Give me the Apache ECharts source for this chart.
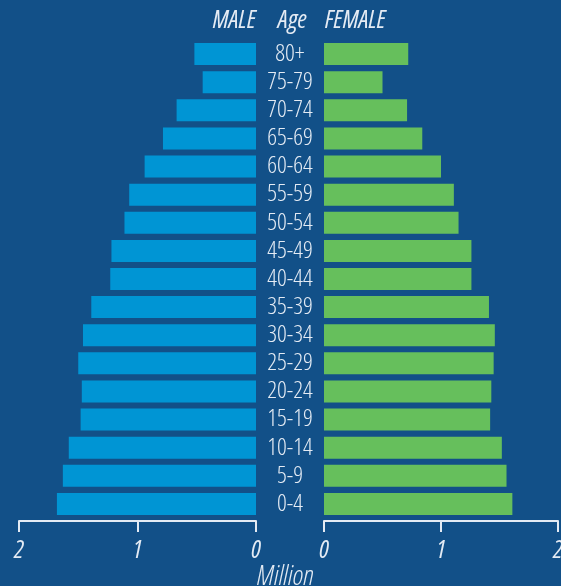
<!DOCTYPE html>
<html>
<head>
<meta charset="utf-8">
<script src="https://cdn.jsdelivr.net/npm/echarts@6/dist/echarts.min.js"></script>
<style>
  html, body { margin: 0; padding: 0; background: #125088; }
  #chart { width: 561px; height: 586px; }
</style>
</head>
<body>
<div id="chart"></div>
<script>
// age groups, bottom to top
var ages = ['0-4', '5-9', '10-14', '15-19', '20-24', '25-29', '30-34', '35-39', '40-44',
  '45-49', '50-54', '55-59', '60-64', '65-69', '70-74', '75-79', '80+'];
// millions
var male = [1.68, 1.63, 1.58, 1.48, 1.47, 1.50, 1.46, 1.39, 1.23, 1.22, 1.11, 1.07, 0.94, 0.785, 0.67, 0.45, 0.52];
var female = [1.61, 1.56, 1.52, 1.42, 1.43, 1.45, 1.46, 1.41, 1.26, 1.26, 1.15, 1.11, 1.00, 0.84, 0.71, 0.50, 0.72];
var xTicks = [0, 1, 2];

// light condensed face, close to the original
var font = '"Open Sans", "Roboto", sans-serif';
var light = 'condensed 300';
var regular = 'condensed 400';
var textColor = '#e4ebf4';

var chart = echarts.init(document.getElementById('chart'));

function valueAxis(gridIndex, inverse) {
  return {
    type: 'value',
    gridIndex: gridIndex,
    inverse: inverse,
    min: xTicks[0],
    max: xTicks[xTicks.length - 1],
    interval: 1,
    offset: 3,
    splitLine: { show: false },
    axisLine: { show: true, lineStyle: { color: textColor, width: 2 } },
    axisTick: { show: true, inside: false, length: 11, lineStyle: { color: textColor, width: 2 } },
    axisLabel: {
      color: textColor, fontFamily: font, fontWeight: regular, fontStyle: 'italic',
      fontSize: 25, margin: 17, showMinLabel: true, showMaxLabel: true
    }
  };
}

var option = {
  backgroundColor: '#125088',
  animation: false,
  grid: [
    { left: 19, right: 305, top: 40, height: 478, outerBoundsMode: 'none' },
    { left: 324, right: 3, top: 40, height: 478, outerBoundsMode: 'none' }
  ],
  xAxis: [valueAxis(0, true), valueAxis(1, false)],
  yAxis: [
    {
      type: 'category', gridIndex: 0, data: ages,
      axisLine: { show: false }, axisTick: { show: false }, axisLabel: { show: false }
    },
    {
      type: 'category', gridIndex: 1, data: ages,
      axisLine: { show: false }, axisTick: { show: false },
      axisLabel: {
        interval: 0, hideOverlap: false,
        color: textColor, fontFamily: font, fontWeight: light, fontSize: 24,
        align: 'center', margin: 34
      }
    }
  ],
  series: [
    {
      name: 'MALE', type: 'bar', xAxisIndex: 0, yAxisIndex: 0,
      data: male, barWidth: 22, itemStyle: { color: '#0095d4' }
    },
    {
      name: 'FEMALE', type: 'bar', xAxisIndex: 1, yAxisIndex: 1,
      data: female, barWidth: 22, itemStyle: { color: '#66bf5c' }
    }
  ],
  graphic: [
    {
      type: 'text', right: 561 - 256, top: 8,
      style: { text: 'MALE', fill: textColor, font: 'italic ' + regular + ' 25px ' + font }
    },
    {
      type: 'text', left: 278, top: 8,
      style: { text: 'Age', fill: textColor, font: 'italic ' + regular + ' 25px ' + font }
    },
    {
      type: 'text', left: 325, top: 8,
      style: { text: 'FEMALE', fill: textColor, font: 'italic ' + regular + ' 25px ' + font }
    },
    {
      type: 'text', left: 257, top: 563,
      style: { text: 'Million', fill: textColor, font: 'italic ' + light + ' 28px ' + font }
    }
  ]
};

chart.setOption(option);
</script>
</body>
</html>
